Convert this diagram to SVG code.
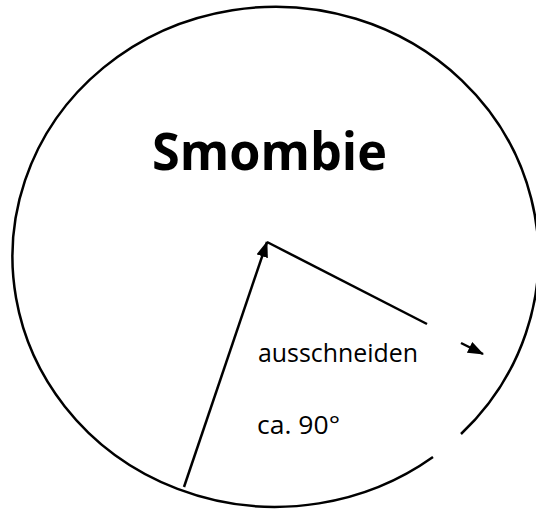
<svg xmlns="http://www.w3.org/2000/svg" width="536" height="511" viewBox="0 0 536 511">
<style>
.outline{fill:none;stroke:#000;stroke-width:2.5}
.conn{fill:none;stroke:#000;stroke-width:2.5}
.title{font-family:"Open Sans","Liberation Sans",sans-serif;font-weight:bold;font-size:52px;fill:#000}
.lbl{font-family:"Open Sans","Liberation Sans",sans-serif;font-size:25px;fill:#000}
</style>
<defs>
<marker id="ah" markerUnits="userSpaceOnUse" markerWidth="16" markerHeight="12" refX="15" refY="6" orient="auto">
<path d="M0,0 L16,6 L0,12 z" fill="#000"/>
</marker>
</defs>
<rect width="536" height="511" fill="#fff"/>
<g id="circle">
<path class="outline" d="M433,457 A263,250 0 1 1 461,434"/>
</g>
<g id="title">
<text class="title" x="152" y="170" textLength="235" lengthAdjust="spacingAndGlyphs">Smombie</text>
</g>
<g id="labels">
<text class="lbl" x="258" y="362" textLength="160" lengthAdjust="spacingAndGlyphs">ausschneiden</text>
<text class="lbl" x="257" y="434" textLength="83" lengthAdjust="spacingAndGlyphs">ca. 90°</text>
</g>
<g id="connectors">
<line class="conn" x1="184" y1="487" x2="267" y2="242" marker-end="url(#ah)"/>
<line class="conn" x1="267" y1="242" x2="427" y2="324"/>
<line class="conn" x1="461" y1="343" x2="483" y2="354" marker-end="url(#ah)"/>
</g>
</svg>
